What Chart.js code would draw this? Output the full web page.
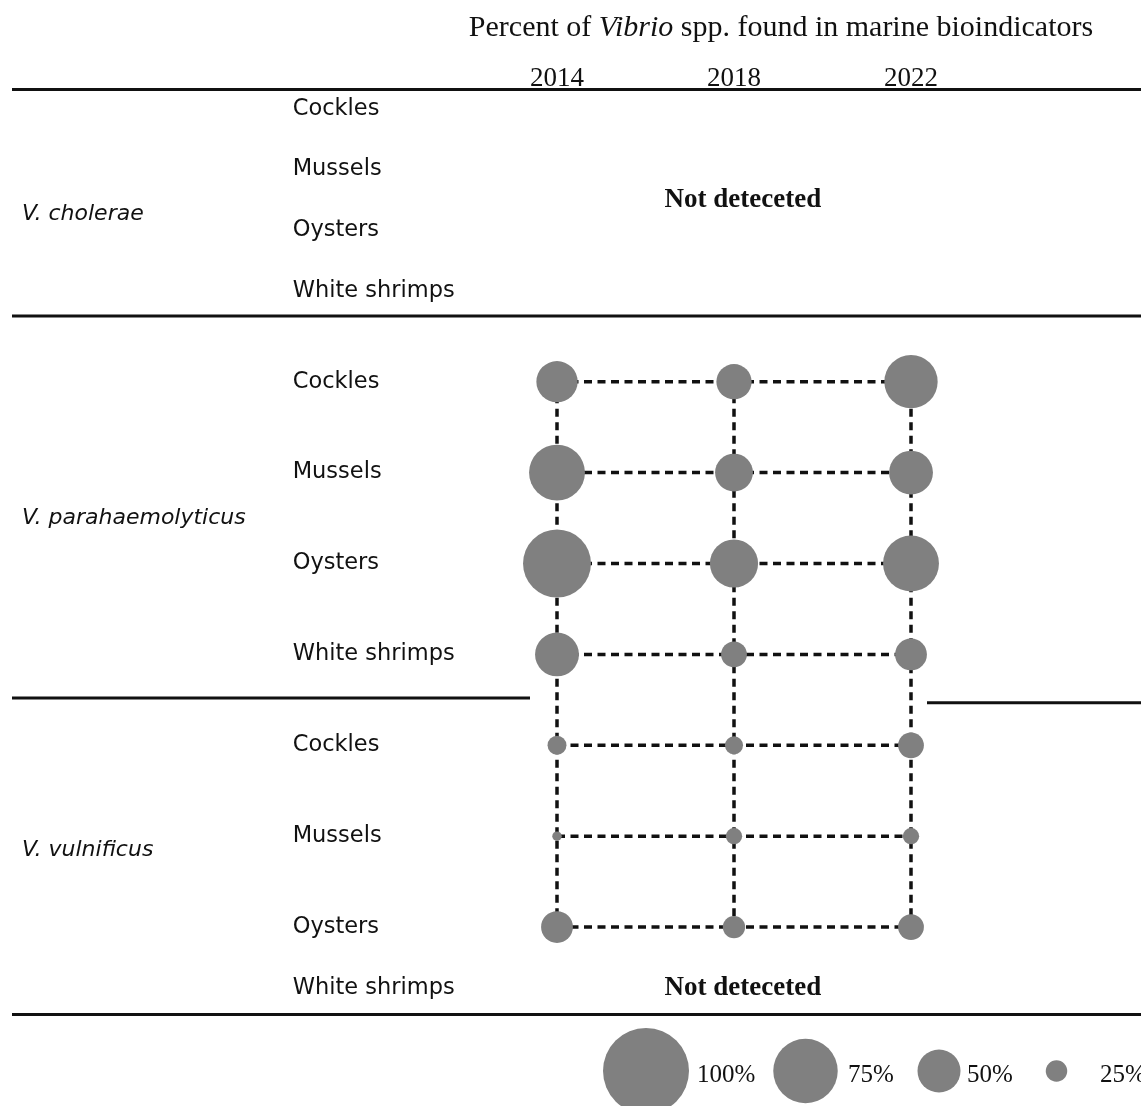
<!DOCTYPE html>
<html>
<head>
<meta charset="utf-8">
<title>Percent of Vibrio spp. found in marine bioindicators</title>
<script src="https://cdn.jsdelivr.net/npm/chart.js@4.4.1/dist/chart.umd.min.js"></script>
<style>
  html, body { margin: 0; padding: 0; background: #fff; }
  #wrap { width: 1141px; height: 1106px; }
</style>
</head>
<body>
<div id="wrap"><canvas id="vibrioChart" width="1141" height="1106"></canvas></div>
<script>
// ---- data ----
const YEARS = [2014, 2018, 2022];
const SPECIES = ['V. cholerae', 'V. parahaemolyticus', 'V. vulnificus'];
const BIOINDICATORS = ['Cockles', 'Mussels', 'Oysters', 'White shrimps'];
// percent per bioindicator, one value per year; null = not detected
const CHOLERAE = [null, null, null, null];
const PARAHAEMOLYTICUS = [[48, 41, 62], [65, 44, 51], [79, 56, 65], [51, 30, 37]];
const VULNIFICUS = [[22, 21, 30], [11, 19, 19], [37, 26, 30], null];
const LEGEND_PCT = [100, 75, 50, 25];
const NOT_DETECTED = 'Not deteceted';

// ---- styles / layout ----
const GREY = '#808080';
const INK = '#111111';
const R_PER_PCT = 0.43;           // bubble radius (px) per percent
const SANS = '"DejaVu Sans", sans-serif';
const SERIF = '"Liberation Serif", "Times New Roman", serif';

const groups = [CHOLERAE, PARAHAEMOLYTICUS, VULNIFICUS];

// row position on the y scale: rows with data get a wider step
let rowPos = [];
let pos = null;
groups.forEach(g => {
    rowPos.push(g.map(v => { pos = (pos === null) ? 0 : pos + (v ? 3 : 2); return pos; }));
});

// bubbles
let bubblePts = [];
groups.forEach((g, gi) => g.forEach((vals, bi) => {
    if (!vals) return;
    vals.forEach((p, yi) => bubblePts.push({ x: YEARS[yi], y: rowPos[gi][bi], r: p * R_PER_PCT }));
}));

// dashed connectors
const dashed = { type: 'scatter', showLine: true, borderColor: INK, borderWidth: 3.5, borderDash: [8, 5.5],
                 pointRadius: 0, order: 2, clip: false };
let lineSets = [];
let dataRows = [];
groups.forEach((g, gi) => g.forEach((vals, bi) => { if (vals) dataRows.push(rowPos[gi][bi]); }));
dataRows.forEach(y => {
    lineSets.push(Object.assign({}, dashed, { data: YEARS.map(yr => ({ x: yr, y: y })) }));
});
YEARS.forEach(yr => {
    lineSets.push(Object.assign({}, dashed, { data: dataRows.map(y => ({ x: yr, y: y })) }));
});

// table rules, labels, title, legend
const tableDecor = {
    id: 'tableDecor',
    beforeDatasetsDraw(chart) {
        const { ctx, chartArea, scales: { x, y } } = chart;
        const W = chart.width;
        ctx.save();
        ctx.strokeStyle = INK; ctx.lineWidth = 3;
        const rule = (py, x0, x1) => { ctx.beginPath(); ctx.moveTo(x0, py); ctx.lineTo(x1, py); ctx.stroke(); };
        rule(chartArea.top, 12, W);
        rule(y.getPixelForValue(6.83), 12, W);
        rule(y.getPixelForValue(19.44), 12, 530);
        rule(y.getPixelForValue(19.60), 927, W);
        rule(chartArea.bottom, 12, W);
        ctx.restore();
    },
    afterDraw(chart) {
        const { ctx, chartArea, scales: { x, y } } = chart;
        ctx.save();
        ctx.fillStyle = INK;

        // title with italic genus
        const parts = [['Percent of ', 'normal'], ['Vibrio', 'italic'], [' spp. found in marine bioindicators', 'normal']];
        let tw = 0;
        parts.forEach(p => { ctx.font = p[1] + ' 30px ' + SERIF; tw += ctx.measureText(p[0]).width; });
        let tx = 781 - tw / 2;
        ctx.textBaseline = 'alphabetic'; ctx.textAlign = 'left';
        parts.forEach(p => { ctx.font = p[1] + ' 30px ' + SERIF; ctx.fillText(p[0], tx, 36); tx += ctx.measureText(p[0]).width; });

        // year headers
        ctx.font = '27px ' + SERIF; ctx.textAlign = 'center';
        YEARS.forEach(yr => ctx.fillText(String(yr), x.getPixelForValue(yr), 86));

        // row + species labels
        const speciesRow = [3.47, 13.5, 24.46];
        ctx.textBaseline = 'middle'; ctx.textAlign = 'left';
        groups.forEach((g, gi) => {
            ctx.font = '22.5px ' + SANS;
            BIOINDICATORS.forEach((b, bi) => ctx.fillText(b, 292.7, y.getPixelForValue(rowPos[gi][bi])));
            ctx.font = 'italic 22px ' + SANS;
            ctx.fillText(SPECIES[gi], 22, y.getPixelForValue(speciesRow[gi]));
        });

        // not detected notes
        ctx.font = 'bold 27px ' + SERIF; ctx.textAlign = 'center';
        const ndX = x.getPixelForValue(2018.2);
        groups.forEach((g, gi) => {
            if (g.every(v => !v)) {
                const mid = (rowPos[gi][0] + rowPos[gi][g.length - 1]) / 2;
                ctx.fillText(NOT_DETECTED, ndX, y.getPixelForValue(mid));
            } else {
                g.forEach((v, bi) => { if (!v) ctx.fillText(NOT_DETECTED, ndX, y.getPixelForValue(rowPos[gi][bi])); });
            }
        });

        // size legend
        const legCx = [646, 805.5, 939, 1056.5];
        const legTx = [697, 848, 967, 1100];
        ctx.font = '25px ' + SERIF; ctx.textAlign = 'left';
        LEGEND_PCT.forEach((p, i) => {
            ctx.fillStyle = GREY;
            ctx.beginPath(); ctx.arc(legCx[i], 1071, p * R_PER_PCT, 0, Math.PI * 2); ctx.fill();
            ctx.fillStyle = INK;
            ctx.fillText(p + '%', legTx[i], 1075);
        });
        ctx.restore();
    }
};

new Chart(document.getElementById('vibrioChart'), {
    type: 'bubble',
    data: {
        datasets: [
            { type: 'bubble', data: bubblePts, backgroundColor: GREY, borderWidth: 0, order: 0, clip: false }
        ].concat(lineSets)
    },
    options: {
        responsive: false,
        animation: false,
        layout: { padding: { left: 380, right: 53, top: 89.5, bottom: 91.5 } },
        scales: {
            x: { type: 'linear', min: 2010, max: 2026, display: false },
            y: { type: 'linear', min: -0.644, max: 29.885, reverse: true, display: false }
        },
        plugins: { legend: { display: false }, tooltip: { enabled: false } }
    },
    plugins: [tableDecor]
});
</script>
</body>
</html>
